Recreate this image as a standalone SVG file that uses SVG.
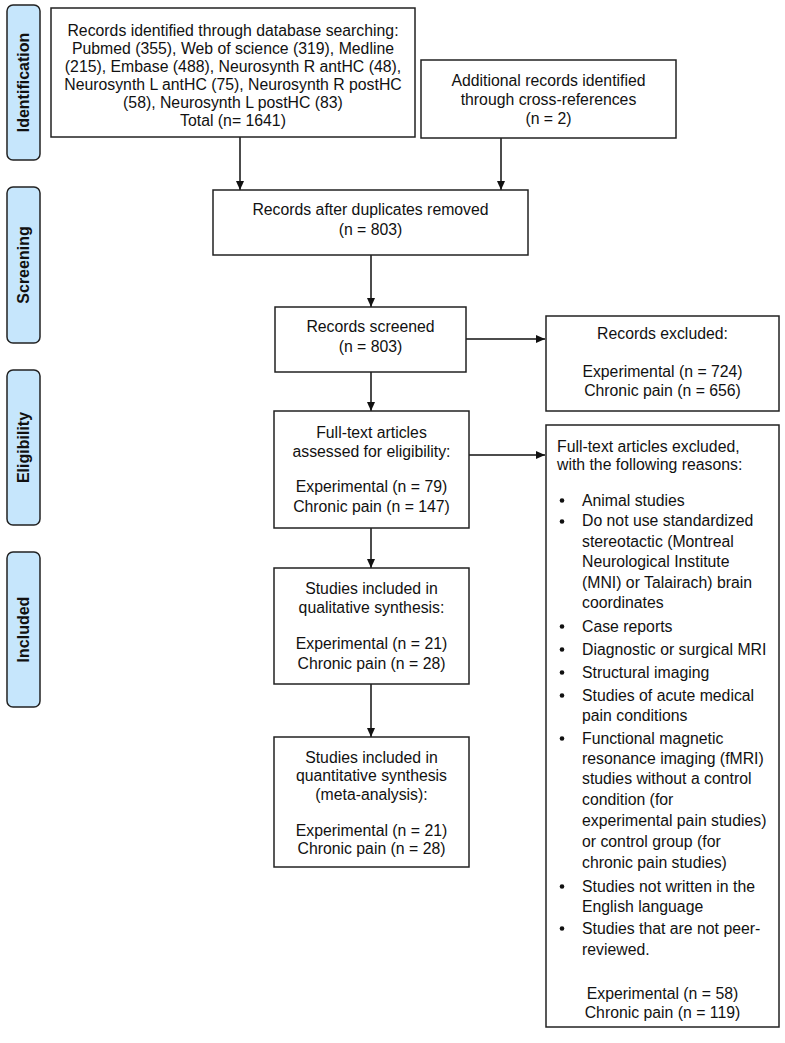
<svg xmlns="http://www.w3.org/2000/svg" width="785" height="1043" viewBox="0 0 785 1043">
<defs>
<marker id="ah" markerWidth="9" markerHeight="8" refX="9" refY="4" orient="auto" markerUnits="userSpaceOnUse">
<path d="M0,0 L9,4 L0,8 z" fill="#111"/>
</marker>
<style>
.box{fill:#fff;stroke:#222;stroke-width:1.5}
.side{fill:#c6e6fc;stroke:#222;stroke-width:1.5}
.t{font-family:"Liberation Sans",Arial,sans-serif;font-size:15.8px;fill:#111}
.c{text-anchor:middle}
.lbl{font-family:"Liberation Sans",Arial,sans-serif;font-size:16px;font-weight:bold;fill:#111;text-anchor:middle}
.ln{stroke:#111;stroke-width:1.5;fill:none}
</style>
</defs>
<rect width="785" height="1043" fill="#fff"/>

<g id="label-identification">
<rect class="side" x="7" y="5" width="33" height="155" rx="6"/>
<text class="lbl" transform="translate(29,82.5) rotate(-90)">Identification</text>
</g>
<g id="label-screening">
<rect class="side" x="7" y="187" width="33" height="156" rx="6"/>
<text class="lbl" transform="translate(29,265) rotate(-90)">Screening</text>
</g>
<g id="label-eligibility">
<rect class="side" x="7" y="370" width="33" height="155" rx="6"/>
<text class="lbl" transform="translate(29,447.5) rotate(-90)">Eligibility</text>
</g>
<g id="label-included">
<rect class="side" x="7" y="552" width="33" height="155" rx="6"/>
<text class="lbl" transform="translate(29,629.5) rotate(-90)">Included</text>
</g>

<g id="connectors">
<line class="ln" x1="240" y1="137" x2="240" y2="190" marker-end="url(#ah)"/>
<line class="ln" x1="501" y1="138" x2="501" y2="190" marker-end="url(#ah)"/>
<line class="ln" x1="371" y1="255" x2="371" y2="307" marker-end="url(#ah)"/>
<line class="ln" x1="466" y1="339" x2="545" y2="339" marker-end="url(#ah)"/>
<line class="ln" x1="371" y1="372" x2="371" y2="411" marker-end="url(#ah)"/>
<line class="ln" x1="469" y1="455" x2="545" y2="455" marker-end="url(#ah)"/>
<line class="ln" x1="371" y1="528" x2="371" y2="568" marker-end="url(#ah)"/>
<line class="ln" x1="371" y1="684" x2="371" y2="737" marker-end="url(#ah)"/>
</g>

<g id="records-identified">
<rect class="box" x="51" y="8" width="364" height="129"/>
<text class="t c" x="233" y="35.5">Records identified through database searching:</text>
<text class="t c" x="233" y="53.5">Pubmed (355), Web of science (319), Medline</text>
<text class="t c" x="233" y="71.5">(215), Embase (488), Neurosynth R antHC (48),</text>
<text class="t c" x="233" y="89.5">Neurosynth L antHC (75), Neurosynth R postHC</text>
<text class="t c" x="233" y="107.5">(58), Neurosynth L postHC (83)</text>
<text class="t c" x="233" y="125.5">Total (n= 1641)</text>
</g>

<g id="additional-records">
<rect class="box" x="421" y="60" width="255" height="78"/>
<text class="t c" x="548.5" y="86">Additional records identified</text>
<text class="t c" x="548.5" y="104.5">through cross-references</text>
<text class="t c" x="548.5" y="124">(n = 2)</text>
</g>

<g id="after-duplicates">
<rect class="box" x="213" y="190" width="315" height="65"/>
<text class="t c" x="370.5" y="214.5">Records after duplicates removed</text>
<text class="t c" x="370.5" y="234.5">(n = 803)</text>
</g>

<g id="records-screened">
<rect class="box" x="275" y="307" width="191" height="65"/>
<text class="t c" x="370.5" y="331.5">Records screened</text>
<text class="t c" x="370.5" y="351.5">(n = 803)</text>
</g>

<g id="records-excluded">
<rect class="box" x="546" y="316" width="233" height="95"/>
<text class="t c" x="662.5" y="338.5">Records excluded:</text>
<text class="t c" x="662.5" y="377">Experimental (n = 724)</text>
<text class="t c" x="662.5" y="395.5">Chronic pain (n = 656)</text>
</g>

<g id="full-text-assessed">
<rect class="box" x="274" y="411" width="195" height="117"/>
<text class="t c" x="371.5" y="437.5">Full-text articles</text>
<text class="t c" x="371.5" y="456.5">assessed for eligibility:</text>
<text class="t c" x="371.5" y="491.5">Experimental (n = 79)</text>
<text class="t c" x="371.5" y="511.5">Chronic pain (n = 147)</text>
</g>

<g id="full-text-excluded">
<rect class="box" x="546" y="425" width="233" height="602"/>
<text class="t" x="557" y="451.5">Full-text articles excluded,</text>
<text class="t" x="557" y="469.5">with the following reasons:</text>
<g fill="#111">
<circle cx="562" cy="500.5" r="2.3"/>
<circle cx="562" cy="521.5" r="2.3"/>
<circle cx="562" cy="626.5" r="2.3"/>
<circle cx="562" cy="649.5" r="2.3"/>
<circle cx="562" cy="672.5" r="2.3"/>
<circle cx="562" cy="695.5" r="2.3"/>
<circle cx="562" cy="738.5" r="2.3"/>
<circle cx="562" cy="886.5" r="2.3"/>
<circle cx="562" cy="928.5" r="2.3"/>
</g>
<text class="t" x="582" y="505.5">Animal studies</text>
<text class="t" x="582" y="526">Do not use standardized</text>
<text class="t" x="582" y="546.5">stereotactic (Montreal</text>
<text class="t" x="582" y="566.5">Neurological Institute</text>
<text class="t" x="582" y="587.5">(MNI) or Talairach) brain</text>
<text class="t" x="582" y="608">coordinates</text>
<text class="t" x="582" y="631.5">Case reports</text>
<text class="t" x="582" y="654.5">Diagnostic or surgical MRI</text>
<text class="t" x="582" y="677.5">Structural imaging</text>
<text class="t" x="582" y="700.5">Studies of acute medical</text>
<text class="t" x="582" y="720.5">pain conditions</text>
<text class="t" x="582" y="743.5">Functional magnetic</text>
<text class="t" x="582" y="763.5">resonance imaging (fMRI)</text>
<text class="t" x="582" y="783.5">studies without a control</text>
<text class="t" x="582" y="804.5">condition (for</text>
<text class="t" x="582" y="825.5">experimental pain studies)</text>
<text class="t" x="582" y="846.5">or control group (for</text>
<text class="t" x="582" y="867.5">chronic pain studies)</text>
<text class="t" x="582" y="891.5">Studies not written in the</text>
<text class="t" x="582" y="911.5">English language</text>
<text class="t" x="582" y="933.5">Studies that are not peer-</text>
<text class="t" x="582" y="954.5">reviewed.</text>
<text class="t c" x="662.5" y="998.5">Experimental (n = 58)</text>
<text class="t c" x="662.5" y="1017.5">Chronic pain (n = 119)</text>
</g>

<g id="qualitative">
<rect class="box" x="274" y="568" width="195" height="116"/>
<text class="t c" x="371.5" y="593.5">Studies included in</text>
<text class="t c" x="371.5" y="612.5">qualitative synthesis:</text>
<text class="t c" x="371.5" y="648.5">Experimental (n = 21)</text>
<text class="t c" x="371.5" y="668.5">Chronic pain (n = 28)</text>
</g>

<g id="quantitative">
<rect class="box" x="274" y="737" width="195" height="130"/>
<text class="t c" x="371.5" y="762.5">Studies included in</text>
<text class="t c" x="371.5" y="780.5">quantitative synthesis</text>
<text class="t c" x="371.5" y="799.5">(meta-analysis):</text>
<text class="t c" x="371.5" y="835.5">Experimental (n = 21)</text>
<text class="t c" x="371.5" y="853.5">Chronic pain (n = 28)</text>
</g>
</svg>
